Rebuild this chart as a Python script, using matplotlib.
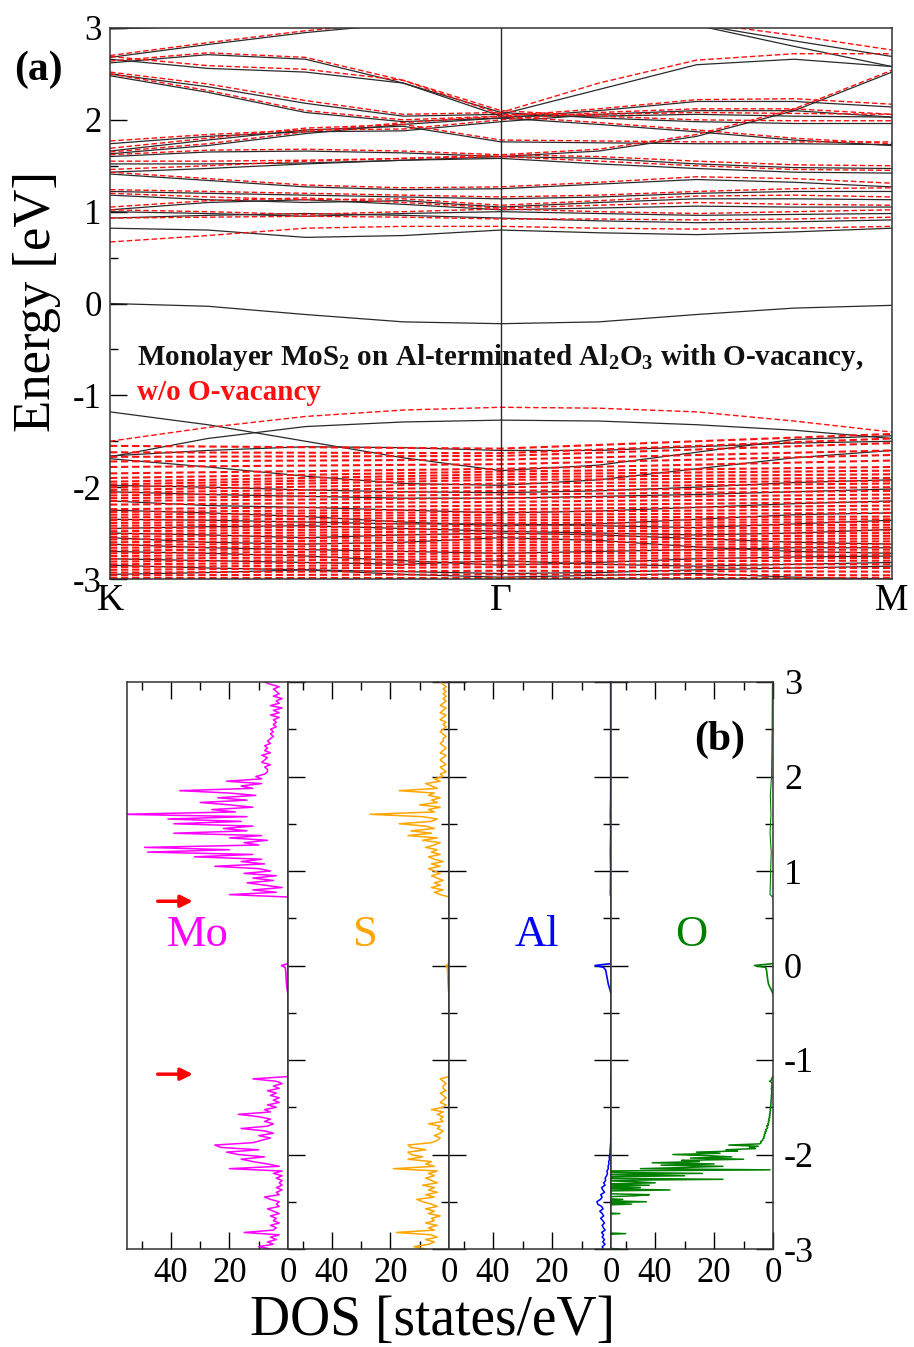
import numpy as np
import matplotlib
matplotlib.use('Agg')
import matplotlib.pyplot as plt

plt.rcParams['font.family'] = ['Liberation Serif', 'DejaVu Serif']
plt.rcParams['mathtext.fontset'] = 'custom'
plt.rcParams['mathtext.rm'] = 'Liberation Serif'
plt.rcParams['mathtext.bf'] = 'Liberation Serif:bold'
plt.rcParams['axes.unicode_minus'] = False

# ---------------- (a) band structure ----------------
# k path sampled at K, 1/4, 1/2, 3/4, Gamma, ..., M  (Gamma = 1, M = 2)
kpath = [0, 0.25, 0.5, 0.75, 1.0, 1.25, 1.5, 1.75, 2.0]
kpath_coarse = [0, 1.0, 2.0]

# with O-vacancy (black solid)
black_cb = [
    [0.82, 0.80, 0.72, 0.74, 0.80, 0.77, 0.75, 0.78, 0.82],
    [0.93, 0.96, 0.98, 0.96, 0.93, 0.90, 0.88, 0.89, 0.91],
    [1.00, 0.98, 0.95, 0.98, 1.00, 0.98, 0.96, 0.97, 0.98],
    [1.02, 1.10, 1.13, 1.08, 1.02, 1.04, 1.06, 1.05, 1.05],
    [1.18, 1.13, 1.10, 1.12, 1.05, 1.10, 1.14, 1.14, 1.13],
    [1.22, 1.20, 1.18, 1.16, 1.14, 1.16, 1.20, 1.22, 1.22],
    [1.41, 1.34, 1.27, 1.24, 1.25, 1.30, 1.35, 1.32, 1.27],
    [1.43, 1.47, 1.52, 1.56, 1.58, 1.52, 1.47, 1.43, 1.42],
    [1.52, 1.52, 1.53, 1.56, 1.60, 1.58, 1.52, 1.48, 1.47],
    [1.60, 1.65, 1.66, 1.64, 1.60, 1.66, 1.82, 2.10, 2.52],
    [1.63, 1.72, 1.85, 1.95, 2.02, 1.95, 1.87, 1.78, 1.72],
    [1.66, 1.78, 1.89, 1.93, 1.76, 1.75, 1.74, 1.74, 1.73],
    [1.74, 1.82, 1.87, 1.88, 1.98, 2.06, 2.10, 2.10, 2.03],
    [2.48, 2.30, 2.08, 1.98, 2.02, 2.10, 2.20, 2.20, 2.14],
    [2.50, 2.36, 2.18, 2.04, 2.06, 2.33, 2.60, 2.66, 2.58],
    [2.62, 2.71, 2.66, 2.40, 2.08, 2.02, 1.98, 1.96, 1.96],
    [2.66, 2.56, 2.52, 2.40, 2.04, 2.04, 2.06, 2.04, 2.03],
    [2.68, 2.82, 2.95, 3.05, 3.10, 3.10, 3.04, 2.86, 2.69],
    [2.99, 3.02, 3.05, 3.05, 3.05, 3.05, 3.03, 2.80, 2.58],
]
black_gap = [0.0, -0.03, -0.12, -0.20, -0.22, -0.20, -0.12, -0.05, -0.02]
black_vb = [
    [-1.18, -1.32, -1.50, -1.68, -1.82, -1.76, -1.62, -1.48, -1.44],
    [-1.67, -1.47, -1.34, -1.29, -1.27, -1.28, -1.32, -1.38, -1.47],
    [-1.69, -1.78, -1.88, -1.96, -1.98, -1.92, -1.80, -1.68, -1.60],
    [-1.66, -1.60, -1.56, -1.57, -1.60, -1.60, -1.56, -1.52, -1.50],
    [-1.98, -2.00, -2.03, -2.05, -2.06, -2.04, -2.00, -1.95, -1.92],
    [-2.05, -2.08, -2.10, -2.12, -2.12, -2.10, -2.08, -2.05, -2.02],
    [-2.15, -2.20, -2.22, -2.25, -2.28, -2.26, -2.22, -2.18, -2.15],
    [-2.25, -2.28, -2.32, -2.38, -2.42, -2.40, -2.35, -2.30, -2.28],
    [-2.35, -2.36, -2.38, -2.40, -2.40, -2.42, -2.44, -2.40, -2.36],
    [-2.45, -2.43, -2.42, -2.45, -2.48, -2.50, -2.52, -2.50, -2.46],
    [-2.50, -2.52, -2.55, -2.52, -2.50, -2.52, -2.56, -2.60, -2.62],
    [-2.55, -2.60, -2.62, -2.60, -2.55, -2.58, -2.65, -2.70, -2.72],
    [-2.62, -2.66, -2.68, -2.70, -2.72, -2.70, -2.68, -2.66, -2.66],
    [-2.70, -2.72, -2.75, -2.80, -2.85, -2.82, -2.78, -2.76, -2.75],
    [-2.78, -2.80, -2.82, -2.84, -2.80, -2.84, -2.86, -2.84, -2.82],
    [-2.85, -2.88, -2.90, -2.92, -2.94, -2.93, -2.90, -2.88, -2.86],
    [-2.95, -2.93, -2.90, -2.95, -2.98, -2.96, -2.94, -2.98, -3.00],
]

# without O-vacancy (red dashed)
red_cb = [
    [0.67, 0.74, 0.82, 0.84, 0.84, 0.82, 0.81, 0.82, 0.84],
    [0.93, 0.94, 0.95, 0.94, 0.92, 0.92, 0.91, 0.92, 0.94],
    [1.02, 1.00, 0.97, 1.00, 1.03, 1.00, 0.98, 1.00, 1.02],
    [1.05, 1.12, 1.15, 1.10, 1.04, 1.07, 1.10, 1.08, 1.07],
    [1.20, 1.16, 1.13, 1.14, 1.07, 1.12, 1.17, 1.18, 1.16],
    [1.24, 1.22, 1.20, 1.18, 1.16, 1.18, 1.22, 1.25, 1.26],
    [1.43, 1.36, 1.29, 1.26, 1.27, 1.32, 1.38, 1.36, 1.31],
    [1.46, 1.50, 1.55, 1.58, 1.60, 1.55, 1.50, 1.46, 1.45],
    [1.55, 1.55, 1.56, 1.58, 1.62, 1.60, 1.55, 1.51, 1.50],
    [1.62, 1.67, 1.68, 1.66, 1.62, 1.68, 1.84, 2.12, 2.54],
    [1.65, 1.74, 1.87, 1.97, 2.04, 1.97, 1.89, 1.80, 1.74],
    [1.69, 1.80, 1.91, 1.95, 1.78, 1.77, 1.76, 1.76, 1.76],
    [1.77, 1.84, 1.89, 1.90, 2.00, 2.08, 2.12, 2.12, 2.06],
    [2.50, 2.32, 2.10, 2.00, 2.04, 2.12, 2.22, 2.23, 2.17],
    [2.52, 2.39, 2.21, 2.06, 2.08, 2.40, 2.65, 2.72, 2.72],
    [2.64, 2.73, 2.68, 2.43, 2.10, 2.04, 2.00, 1.99, 1.99],
    [2.69, 2.59, 2.55, 2.43, 2.06, 2.06, 2.08, 2.07, 2.06],
    [2.70, 2.84, 2.97, 3.07, 3.12, 3.12, 3.06, 2.92, 2.76],
]
red_vb_top = [-1.50, -1.35, -1.23, -1.16, -1.13, -1.14, -1.18, -1.28, -1.40]
red_flat_K = [-1.55, -1.62, -1.67, -1.72, -1.78, -1.85, -1.90, -1.94, -1.97, -2.00,
              -2.03, -2.06, -2.09, -2.12, -2.15, -2.19, -2.24, -2.27, -2.30, -2.33,
              -2.36, -2.39, -2.42, -2.45, -2.48, -2.51, -2.54, -2.57, -2.60, -2.63,
              -2.66, -2.69, -2.72, -2.75, -2.78, -2.81, -2.84, -2.87, -2.90, -2.93,
              -2.96, -2.99]
red_flat_G = [-1.58, -1.63, -1.66, -1.70, -1.75, -1.80, -1.83, -1.86, -1.89, -1.92,
              -1.96, -2.00, -2.04, -2.08, -2.12, -2.16, -2.20, -2.24, -2.27, -2.30,
              -2.33, -2.36, -2.39, -2.42, -2.45, -2.48, -2.51, -2.54, -2.57, -2.60,
              -2.63, -2.66, -2.69, -2.72, -2.75, -2.78, -2.81, -2.84, -2.87, -2.91,
              -2.95, -2.99]
red_flat_M = [-1.42, -1.47, -1.52, -1.60, -1.65, -1.71, -1.78, -1.82, -1.86, -1.90,
              -1.93, -1.96, -2.00, -2.04, -2.08, -2.12, -2.16, -2.20, -2.24, -2.28,
              -2.32, -2.35, -2.38, -2.41, -2.44, -2.47, -2.50, -2.53, -2.56, -2.59,
              -2.62, -2.65, -2.68, -2.71, -2.74, -2.77, -2.80, -2.84, -2.88, -2.92,
              -2.96, -2.99]

# ---------------- (b) projected DOS ----------------
e_cb = np.linspace(0.725, 3.0, 92)      # 0.025 eV grid
e_vb = np.linspace(-3.0, -1.175, 74)    # 0.025 eV grid
e_vb_o = np.linspace(-3.0, -1.175, 147)  # 0.0125 eV grid (O)
e_gap = [0.02, 0.0, -0.02, -0.05, -0.10, -0.15, -0.20, -0.25, -0.30]

mo_cb = [0, 20, 4, 12, 2, 8, 14, 5, 12, 4,
         15, 6, 10, 25, 8, 16, 9, 32, 12, 48,
         20, 49, 10, 15, 7, 20, 9, 39, 14, 22,
         12, 39, 16, 41, 14, 57, 18, 26, 12, 20,
         30, 14, 24, 11, 20, 37, 12, 16, 9, 21,
         9, 11, 8, 7, 7, 8, 6, 9, 8, 7,
         9, 6, 8, 7, 8, 6, 7, 6, 5, 6,
         5, 6, 4, 5, 4, 5, 3, 6, 3, 5,
         2, 6, 3, 4, 2, 5, 3, 4, 5, 3,
         6, 8]
s_cb = [0, 3, 5, 2, 6, 3, 5, 2, 4, 6,
        3, 5, 7, 3, 6, 2, 5, 7, 3, 6,
        4, 8, 5, 3, 9, 4, 14, 6, 13, 5,
        8, 17, 6, 4, 9, 27, 5, 7, 3, 10,
        4, 6, 3, 7, 5, 17, 4, 6, 8, 3,
        5, 2, 3, 1, 2, 3, 1, 2, 3, 2,
        1, 3, 2, 1, 2, 3, 2, 2, 1, 2,
        3, 2, 1, 2, 1, 3, 2, 1, 3, 2,
        1, 3, 2, 1, 2, 1, 2, 1, 2, 1,
        2, 3]
mo_vb = [6, 10, 5, 7, 4, 6, 3, 15, 5, 4,
         6, 3, 5, 4, 6, 3, 5, 7, 3, 4,
         3, 6, 8, 3, 4, 2, 4, 2, 3, 2,
         4, 2, 5, 2, 20, 3, 7, 12, 16, 8,
         17, 21, 10, 23, 25, 12, 9, 6, 10, 5,
         8, 16, 7, 5, 8, 6, 10, 17, 6, 8,
         4, 7, 3, 5, 3, 6, 4, 7, 3, 5,
         2, 4, 12, 0]
s_vb = [8, 12, 7, 5, 8, 4, 6, 18, 5, 7,
        4, 8, 5, 6, 3, 7, 5, 8, 4, 6,
        9, 11, 5, 8, 4, 7, 5, 9, 4, 6,
        8, 5, 7, 4, 19, 5, 8, 6, 14, 9,
        13, 14, 8, 13, 14, 6, 4, 3, 5, 3,
        2, 4, 3, 7, 2, 3, 2, 4, 2, 6,
        2, 1, 3, 2, 1, 2, 3, 1, 2, 2,
        1, 2, 3, 0]
al_vb = [2.5, 3, 2, 2.8, 2.2, 3, 2.5, 3.2, 2, 2.6,
         3, 2.2, 2.8, 3.5, 2.5, 3, 3.8, 2.7, 3.2, 4.5,
         4.8, 3.6, 3, 3.5, 2.2, 2.8, 3.2, 2, 2.5, 1.8,
         2, 1.5, 1.2, 1.4, 0.9, 1, 0.7, 0.8, 0.5, 0.6,
         0.4, 0.3, 0.3, 0.2, 0.2, 0.1, 0.1, 0.1, 0.05, 0.1,
         0.05, 0.1, 0.05, 0.05, 0.1, 0.05, 0.05, 0.05, 0.1, 0.05,
         0.05, 0.05, 0.05, 0.05, 0.05, 0.05, 0.05, 0.05, 0.05, 0.05,
         0.05, 0.05, 0.05, 0]
# O: values above 55 run off the left edge of the panel
o_vb = [52, 60, 60, 60, 60, 60, 60, 60, 60, 60,
        60, 60, 60, 50, 60, 60, 60, 60, 60, 60,
        60, 60, 60, 60, 60, 60, 60, 60, 60, 60,
        52, 60, 60,
        60, 60, 60, 60, 60, 48, 60, 43, 60, 51,
        60, 60, 47, 42, 60, 55, 60, 35, 60, 45,
        60, 42, 60, 40, 47, 60, 17, 60, 60, 30,
        60, 24, 60, 60, 1,
        45, 30, 17, 38, 20, 41, 25, 31, 10, 28,
        14, 22, 34, 18, 26, 12, 16, 6, 8, 5,
        15, 4.5, 4, 4.2, 3.5,
        3.5, 3, 3.2, 2.8, 3, 2.5, 2.8, 2.2, 2.5, 2,
        1.8, 2.2, 1.5, 1.8, 1.4, 1.6, 1.2, 1.5, 1.1, 1.3,
        1, 1.2, 0.9, 1.1, 0.8, 1, 0.8, 0.9, 0.7, 0.8,
        0.6, 0.8, 0.6, 0.7, 0.5, 0.6, 0.5, 0.6, 0.4, 0.5,
        0.4, 0.5, 0.4, 0.6, 0.3, 0.5, 0.3, 0.4, 0.3, 1.2,
        0.6, 0.4, 0.3, 0]
e_cb_small = [0.72, 0.75, 1.0, 1.2, 1.4, 1.6, 1.8, 2.0, 2.5, 3.0]
al_cb = [0, 0.3, 0.2, 0.3, 0.2, 0.3, 0.2, 0.2, 0.2, 0.2]
o_cb = [0, 1.0, 0.8, 0.6, 1.0, 0.7, 0.9, 0.5, 0.3, 0.2]
mo_gap = [0, 2.2, 1.0, 0.8, 0.7, 0.6, 0.5, 0.3, 0]
s_gap = [0, 1.0, 0.6, 0.5, 0.4, 0.4, 0.3, 0.2, 0]
al_gap = [0, 5.4, 2.5, 1.8, 1.5, 1.2, 0.9, 0.4, 0]
o_gap = [0, 6.3, 2.5, 2.2, 2.0, 1.8, 1.5, 0.7, 0]

elements = ['Mo', 'S', 'Al', 'O']
colors = ['#ff00ff', '#ffa500', '#0000ff', '#008000']
label_x = [31, 28.4, 25, 27.7]

W, H = 914, 1347
fig = plt.figure(figsize=(W / 100, H / 100), dpi=100)

BLK = '#2a2a2a'
RED = '#ff1010'
dash = (0, (4, 2))

ax = fig.add_axes([110 / W, 1 - 579 / H, (892 - 110) / W, (579 - 28) / H])
for b in black_cb + [black_gap] + black_vb:
    ax.plot(kpath, b, color=BLK, lw=0.9)
for b in red_cb + [red_vb_top]:
    ax.plot(kpath, b, color=RED, lw=1.0, ls=dash)
for lk, lg, lm in zip(red_flat_K, red_flat_G, red_flat_M):
    ax.plot(kpath_coarse, [lk, lg, lm], color=RED, lw=1.5, ls=(0, (3.5, 1.8)))
ax.axvline(1.0, color=BLK, lw=1.0)
ax.set_xlim(0, 2)
ax.set_ylim(-3, 3)
ax.set_xticks([0, 1, 2])
ax.set_xticklabels(['K', 'Γ', 'M'], fontsize=27)
ax.tick_params(axis='x', length=0, pad=3)
ax.set_yticks(range(-3, 4))
ax.set_yticks(np.arange(-2.5, 3.0, 1.0), minor=True)
ax.tick_params(axis='y', which='major', direction='in', length=12, width=1.0,
               labelsize=25, pad=6)
ax.tick_params(axis='y', which='minor', direction='in', length=6, width=1.0)
for sp in ax.spines.values():
    sp.set_color('#333333')
    sp.set_linewidth(1.1)
ax.text(0.069, -0.59,
        r'Monolayer MoS$_\mathbf{2}$ on Al-terminated Al$_\mathbf{2}$O$_\mathbf{3}$ with O-vacancy,',
        fontsize=21, fontweight='bold', va='center', color='#111111')
ax.text(0.069, -0.97, 'w/o O-vacancy', fontsize=21, fontweight='bold', va='center', color=RED)

fig.text(37 / W, 1 - 302 / H, 'Energy [eV]', rotation=90, ha='center', va='center', fontsize=38)
fig.text(38 / W, 1 - 70 / H, '(a)', ha='center', va='center', fontsize=30, fontweight='bold')

# (b)
edges = [127, 288, 449, 611, 773]
cb_dos = [mo_cb, s_cb, None, None]
vb_dos = [mo_vb, s_vb, al_vb, o_vb]
vb_e = [e_vb, e_vb, e_vb, e_vb_o]
gap_dos = [mo_gap, s_gap, al_gap, o_gap]
small_cb = [None, None, al_cb, o_cb]
for i in range(4):
    axb = fig.add_axes([edges[i] / W, 1 - 1249 / H, (edges[i + 1] - edges[i]) / W, (1249 - 682) / H])
    c = colors[i]
    if cb_dos[i] is not None:
        axb.plot(cb_dos[i], e_cb, color=c, lw=1.1)
    if small_cb[i] is not None:
        axb.plot(small_cb[i], e_cb_small, color=c, lw=0.8)
    axb.plot(vb_dos[i], vb_e[i], color=c, lw=1.1)
    axb.plot(gap_dos[i], e_gap, color=c, lw=1.2)
    axb.set_xlim(55, 0)
    axb.set_ylim(-3, 3)
    axb.set_xticks([0, 20, 40])
    axb.set_xticks([10, 30, 50], minor=True)
    axb.set_yticks(range(-3, 4))
    axb.set_yticks(np.arange(-2.5, 3.0, 1.0), minor=True)
    axb.tick_params(axis='x', which='major', direction='in', top=True, bottom=True,
                    length=12, width=1.0, labelsize=25, pad=6)
    axb.tick_params(axis='x', which='minor', direction='in', top=True, bottom=True,
                    length=6, width=1.0)
    if i == 0:
        axb.tick_params(axis='y', which='both', left=False, right=False, labelleft=False)
    else:
        axb.tick_params(axis='y', which='major', direction='in', left=True, right=True,
                        length=12, width=1.0, labelleft=False, labelright=(i == 3),
                        labelsize=26, pad=8)
        axb.tick_params(axis='y', which='minor', direction='in', left=True, right=True,
                        length=6, width=1.0)
    for sp in axb.spines.values():
        sp.set_color('#333333')
        sp.set_linewidth(1.1)
    axb.text(label_x[i], 0.32, elements[i], color=c, fontsize=32, ha='center', va='center')
    if i == 0:
        for ea in [0.68, -1.15]:
            axb.annotate('', xy=(32.5, ea), xytext=(44.5, ea),
                         arrowprops=dict(arrowstyle='-|>', color='red', lw=2.5,
                                         mutation_scale=18, shrinkA=0, shrinkB=0))
    if i == 3:
        axb.text(18, 2.39, '(b)', fontsize=30, fontweight='bold', ha='center', va='center')

fig.text(432 / W, 1 - 1335 / H, 'DOS [states/eV]', ha='center', va='baseline', fontsize=40)

fig.savefig('out.png', dpi=100)
